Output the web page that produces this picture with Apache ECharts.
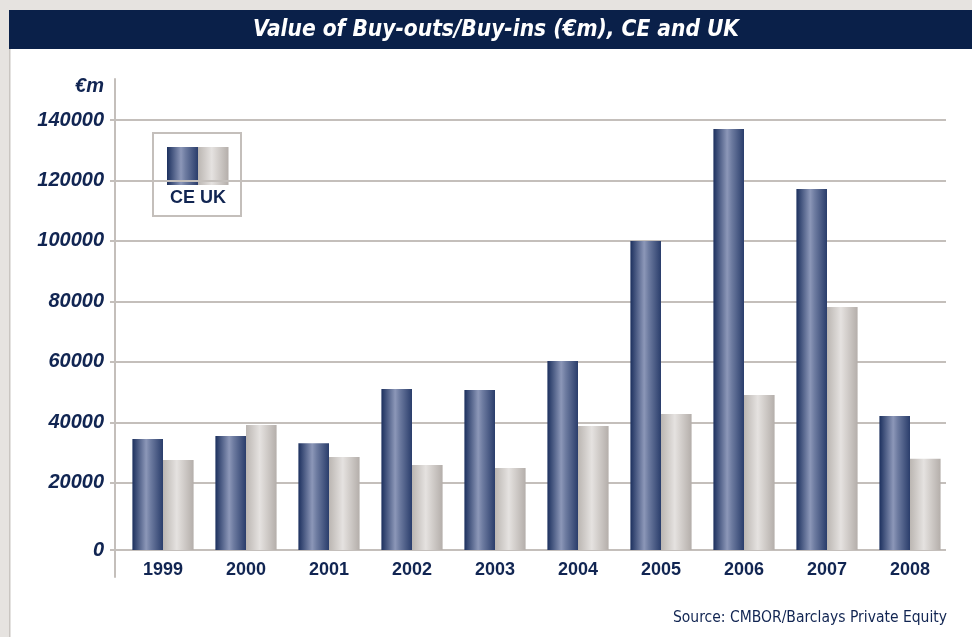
<!DOCTYPE html>
<html>
<head>
<meta charset="utf-8">
<title>Value of Buy-outs/Buy-ins</title>
<script src="https://cdn.jsdelivr.net/npm/echarts@6/dist/echarts.min.js"></script>
<style>
    html, body { margin: 0; padding: 0; background: #e6e3e0; }
    #chart { width: 972px; height: 637px; }
</style>
</head>
<body>
<div id="chart"></div>
<script>
// 数据
var years = ['1999', '2000', '2001', '2002', '2003', '2004', '2005', '2006', '2007', '2008'];
var ceValues = [34500, 35500, 33100, 51000, 50700, 60300, 100000, 137000, 117200, 42100];
var ukValues = [27500, 39100, 28500, 25900, 24900, 38800, 42700, 49000, 78100, 27900];
var seriesNames = ['CE', 'UK'];
var yMax = 140000;
var yFloor = -2250;     // 原图的底线比 0 刻度略低
var titleText = 'Value of Buy-outs/Buy-ins (€m), CE and UK';
var unitText = '€m';
var sourceText = 'Source: CMBOR/Barclays Private Equity';

var NAVY = '#112552';
var GRID_GRAY = '#c4bfbb';
var narrowFont = "'DejaVu Sans Condensed', 'Liberation Sans Narrow', sans-serif";
var mainFont = "'Liberation Sans', Arial, sans-serif";

// 柱子的横向渐变
function ceFill() {
    return new echarts.graphic.LinearGradient(0, 0, 1, 0, [
        { offset: 0, color: '#1c305e' },
        { offset: 0.45, color: '#8c97b8' },
        { offset: 0.6, color: '#6d7ba0' },
        { offset: 1, color: '#2a3d6b' }
    ]);
}
function ukFill() {
    return new echarts.graphic.LinearGradient(0, 0, 1, 0, [
        { offset: 0, color: '#bbb6b2' },
        { offset: 0.45, color: '#e5e2e0' },
        { offset: 0.6, color: '#d8d4d1' },
        { offset: 1, color: '#b4aeaa' }
    ]);
}

var chart = echarts.init(document.getElementById('chart'));

// 分隔线颜色：0 刻度那条不画（底线代替）
var splitColors = [GRID_GRAY, 'rgba(0,0,0,0)'];
for (var i = 0; i < 7; i++) {
    splitColors.push(GRID_GRAY);
}

var option = {
    backgroundColor: '#e6e3e0',
    animation: false,
    grid: [
        // 0: 网格线和 y 轴标签
        { left: 110, right: 26, top: 120, bottom: 87 },
        // 1: 柱子和年份
        { left: 121.5, right: 20.5, top: 120, bottom: 87 },
        // 2: y 轴竖线
        { left: 115, width: 1, top: 79, bottom: 60 }
    ],
    xAxis: [
        { gridIndex: 0, type: 'category', data: years, show: false },
        {
            gridIndex: 1,
            type: 'category',
            data: years,
            axisLine: { show: false },
            axisTick: { show: false },
            axisLabel: {
                margin: 11,
                color: NAVY,
                fontFamily: mainFont,
                fontWeight: 'bold',
                fontSize: 18
            }
        },
        { gridIndex: 2, type: 'value', min: 0, max: 1, show: false }
    ],
    yAxis: [
        {
            gridIndex: 0,
            type: 'value',
            min: yFloor,
            max: yMax,
            splitNumber: 7,
            name: unitText,
            nameLocation: 'end',
            nameGap: 24,
            nameTextStyle: {
                color: NAVY,
                fontFamily: mainFont,
                fontWeight: 'bold',
                fontStyle: 'italic',
                fontSize: 20,
                align: 'right',
                padding: [0, 6, 0, 0]
            },
            axisLine: { show: false },
            axisTick: { show: false },
            axisLabel: {
                margin: 6,
                color: NAVY,
                fontFamily: mainFont,
                fontWeight: 'bold',
                fontStyle: 'italic',
                fontSize: 20,
                formatter: function (v) {
                    if (v === yFloor) return '0';
                    if (v === 0) return '';
                    return String(v);
                }
            },
            splitLine: {
                show: true,
                lineStyle: { color: splitColors, width: 2 }
            }
        },
        {
            gridIndex: 1,
            type: 'value',
            min: yFloor,
            max: yMax,
            startValue: yFloor,
            show: false
        },
        {
            gridIndex: 2,
            type: 'value',
            min: 0,
            max: 1,
            axisLine: { show: true, lineStyle: { color: GRID_GRAY, width: 2 } },
            axisTick: { show: false },
            axisLabel: { show: false },
            splitLine: { show: false }
        }
    ],
    series: [
        {
            name: seriesNames[0],
            type: 'bar',
            xAxisIndex: 1,
            yAxisIndex: 1,
            barWidth: 30.6,
            barGap: '0%',
            itemStyle: { color: ceFill() },
            data: ceValues
        },
        {
            name: seriesNames[1],
            type: 'bar',
            xAxisIndex: 1,
            yAxisIndex: 1,
            barWidth: 30.6,
            barGap: '0%',
            itemStyle: { color: ukFill() },
            data: ukValues
        }
    ],
    graphic: [
        // 白色底板和左边线
        { type: 'rect', z: -10, shape: { x: 9, y: 49, width: 963, height: 588 }, style: { fill: '#ffffff' } },
        { type: 'rect', z: -9, shape: { x: 9, y: 49, width: 1.5, height: 588 }, style: { fill: '#c9c5c1' } },
        // 标题栏
        { type: 'rect', shape: { x: 9, y: 10, width: 963, height: 39 }, style: { fill: '#0a2049' } },
        {
            type: 'text',
            x: 496,
            y: 30,
            style: {
                text: titleText,
                fill: '#ffffff',
                font: 'italic bold 22.5px ' + narrowFont,
                align: 'center',
                verticalAlign: 'middle'
            }
        },
        // 图例
        {
            type: 'group',
            z: 100,
            children: [
                { type: 'rect', shape: { x: 153, y: 133, width: 88, height: 83 }, style: { fill: '#ffffff', stroke: GRID_GRAY, lineWidth: 2 } },
                { type: 'rect', shape: { x: 167, y: 147, width: 31, height: 38 }, style: { fill: ceFill() } },
                { type: 'rect', shape: { x: 198, y: 147, width: 30.5, height: 38 }, style: { fill: ukFill() } },
                {
                    type: 'text',
                    x: 198,
                    y: 198,
                    style: {
                        text: seriesNames.join(' '),
                        fill: NAVY,
                        font: 'bold 18px ' + mainFont,
                        align: 'center',
                        verticalAlign: 'middle'
                    }
                }
            ]
        },
        // 来源
        {
            type: 'text',
            x: 947,
            y: 618,
            style: {
                text: sourceText,
                fill: NAVY,
                font: '15.5px ' + narrowFont,
                align: 'right',
                verticalAlign: 'middle'
            }
        }
    ]
};

chart.setOption(option);
</script>
</body>
</html>
